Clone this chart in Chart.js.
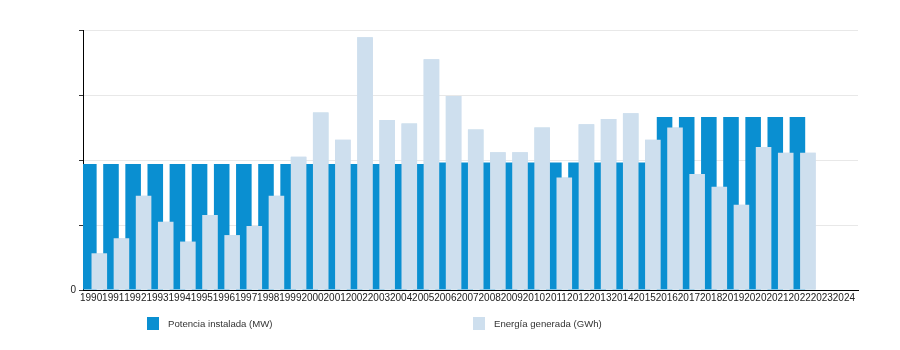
<!DOCTYPE html>
<html lang="es">
<head>
<meta charset="utf-8">
<title>Potencia instalada y energía generada</title>
<script src="https://cdn.jsdelivr.net/npm/chart.js@4"></script>
<style>
    body { margin: 0; background: #fff; }
    .wrap { position: relative; width: 900px; height: 350px; }
    .legend-item {
        position: absolute;
        top: 317px;
        display: flex;
        align-items: center;
        font-family: 'Liberation Sans', Arial, sans-serif;
        font-size: 9.6px;
        color: #333;
    }
    .legend-item .box { width: 12px; height: 13px; margin-right: 9px; }
</style>
</head>
<body>
<div class="wrap">
    <canvas id="energyChart"></canvas>
    <div class="legend-item" style="left:147px;"><span class="box" style="background:#0a8fd1;"></span>Potencia instalada (MW)</div>
    <div class="legend-item" style="left:473px;"><span class="box" style="background:#cedfee;"></span>Energía generada (GWh)</div>
</div>
<script>
// values (one grid step = 10 units, no scale printed)
const years = ['1990', '1991', '1992', '1993', '1994', '1995', '1996', '1997', '1998', '1999',
    '2000', '2001', '2002', '2003', '2004', '2005', '2006', '2007', '2008', '2009',
    '2010', '2011', '2012', '2013', '2014', '2015', '2016', '2017', '2018', '2019',
    '2020', '2021', '2022', '2023', '2024'];

const potencia = [19.4, 19.4, 19.4, 19.4, 19.4, 19.4, 19.4, 19.4, 19.4, 19.4,
    19.4, 19.4, 19.4, 19.4, 19.4, 19.4, 19.6, 19.6, 19.6, 19.6,
    19.6, 19.6, 19.6, 19.6, 19.6, 19.6, 26.6, 26.6, 26.6, 26.6,
    26.6, 26.6, 26.6, null, null];

const energia = [5.65, 7.95, 14.5, 10.5, 7.45, 11.55, 8.45, 9.85, 14.5, 20.5,
    27.3, 23.1, 38.9, 26.15, 25.6, 35.5, 29.85, 24.7, 21.2, 21.2,
    25.0, 17.3, 25.5, 26.3, 27.2, 23.1, 25.0, 17.85, 15.9, 13.1,
    22.0, 21.1, 21.1, null, null];

const yTicks = [0, 10, 20, 30, 40];

// Chart.js draws the first dataset on top; redraw the light bars so they overlap the dark ones
const lightOnTop = {
    id: 'lightOnTop',
    afterDatasetsDraw(chart) {
        chart.getDatasetMeta(1).controller.draw();
    }
};

const ctx = document.getElementById('energyChart').getContext('2d');
new Chart(ctx, {
    type: 'bar',
    data: {
        labels: years,
        datasets: [
            {
                label: 'Potencia instalada (MW)',
                data: potencia,
                backgroundColor: '#0a8fd1',
                categoryPercentage: 0.944,
                barPercentage: 1.49
            },
            {
                label: 'Energía generada (GWh)',
                data: energia,
                backgroundColor: '#cedfee',
                categoryPercentage: 0.944,
                barPercentage: 1.49
            }
        ]
    },
    options: {
        responsive: true,
        maintainAspectRatio: false,
        animation: false,
        layout: {
            padding: { top: 30, right: 42, bottom: 0, left: 0 }
        },
        plugins: {
            legend: { display: false },
            tooltip: { enabled: true }
        },
        scales: {
            x: {
                grid: { display: false, drawTicks: false },
                border: { color: '#000', width: 1 },
                ticks: {
                    autoSkip: false,
                    maxRotation: 0,
                    minRotation: 0,
                    padding: 2,
                    labelOffset: -3,
                    color: '#222',
                    font: { family: "'Liberation Sans', Arial, sans-serif", size: 10 }
                },
                afterFit(scale) { scale.height = 60; }
            },
            y: {
                min: yTicks[0],
                max: yTicks[yTicks.length - 1],
                grid: {
                    color: '#e8e8e8',
                    tickColor: '#333',
                    tickLength: 4
                },
                border: { color: '#000', width: 1 },
                afterBuildTicks(scale) {
                    scale.ticks = yTicks.map(v => ({ value: v }));
                },
                ticks: {
                    padding: 3,
                    color: '#222',
                    font: { family: "'Liberation Sans', Arial, sans-serif", size: 10 },
                    callback: (v) => (v === 0 ? '0' : '')
                },
                afterFit(scale) { scale.width = 83; }
            }
        }
    },
    plugins: [lightOnTop]
});
</script>
</body>
</html>
